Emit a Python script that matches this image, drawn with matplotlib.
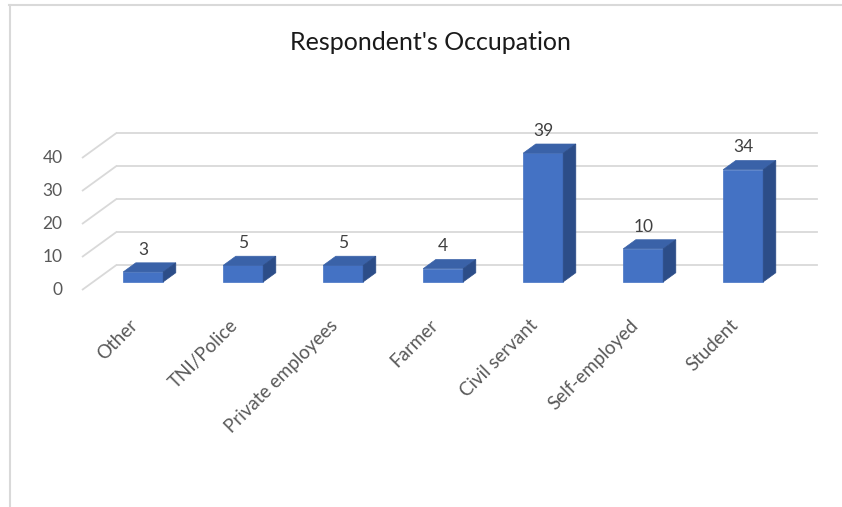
import matplotlib.pyplot as plt
from matplotlib.patches import Polygon
from matplotlib.lines import Line2D

occupations = ["Other", "TNI/Police", "Private employees", "Farmer",
               "Civil servant", "Self-employed", "Student"]
counts = [3, 5, 5, 4, 39, 10, 34]
y_ticks = [0, 10, 20, 30, 40]

W, H = 842, 507
plt.rcParams["font.family"] = ["Lato", "DejaVu Sans"]

fig = plt.figure(figsize=(W / 100, H / 100), dpi=100)
fig.patch.set_facecolor("white")

# front plane of the 3-D box, in pixels: x 82..782, y 290 (0) .. 158 (40)
ax = fig.add_axes([82 / W, (H - 290) / H, 700 / W, 132 / H])
ax.set_xlim(-0.5, len(occupations) - 0.5)
ax.set_ylim(0, 40)
ax.axis("off")

# oblique depth offset (category units, value units)
DX, DY = 0.35, 7.7
D0, D1 = 0.32, 0.68      # bar front/back depth fraction
HALF = 0.2               # half bar width

grid_c = "#d9d9d9"
for v in y_ticks:
    ax.plot([-0.5, -0.5 + DX], [v, v + DY], color=grid_c, lw=1.3,
            clip_on=False, zorder=1, solid_capstyle="butt")
    ax.plot([-0.5 + DX, len(occupations) - 0.5 + DX], [v + DY, v + DY],
            color=grid_c, lw=1.3, clip_on=False, zorder=1)
    ax.annotate(str(v), (-0.5, v), xytext=(-14, 0), textcoords="offset points",
                ha="right", va="center", fontsize=12.5, color="#595959",
                annotation_clip=False)

front_c, top_c, side_c = "#4472C4", "#3A62A8", "#2C4D88"
w = D1 - D0
for i, v in enumerate(counts):
    xl = i - HALF + D0 * DX
    xr = i + HALF + D0 * DX
    yb = D0 * DY
    yt = v + D0 * DY
    front = Polygon([(xl, yb), (xr, yb), (xr, yt), (xl, yt)], closed=True,
                    facecolor=front_c, edgecolor=front_c, lw=0.5, zorder=3,
                    clip_on=False)
    top = Polygon([(xl, yt), (xr, yt), (xr + w * DX, yt + w * DY),
                   (xl + w * DX, yt + w * DY)], closed=True,
                  facecolor=top_c, edgecolor=top_c, lw=0.5, zorder=3,
                  clip_on=False)
    side = Polygon([(xr, yb), (xr + w * DX, yb + w * DY),
                    (xr + w * DX, yt + w * DY), (xr, yt)], closed=True,
                   facecolor=side_c, edgecolor=side_c, lw=0.5, zorder=3,
                   clip_on=False)
    for p in (front, top, side):
        ax.add_patch(p)
    ax.annotate(str(v), (i + D0 * DX, v + D1 * DY), xytext=(0, 9.5),
                textcoords="offset points", ha="center", va="center",
                fontsize=12.5, color="#404040", annotation_clip=False, zorder=4)

for i, name in enumerate(occupations):
    ax.annotate(name, (i, 0), xytext=(-2, -19), textcoords="offset points",
                ha="right", va="top", rotation=45, rotation_mode="anchor",
                fontsize=13.5, color="#595959", annotation_clip=False)

fig.text(430 / W, 1 - 42 / H, "Respondent's Occupation", ha="center",
         va="center", fontsize=18, color="#1a1a1a")

# chart area border (top and left edges visible)
fig.add_artist(Line2D([9 / W, 1], [1 - 5 / H, 1 - 5 / H], color="#d9d9d9",
                      lw=1.5, transform=fig.transFigure))
fig.add_artist(Line2D([10 / W, 10 / W], [0, 1 - 5 / H], color="#d9d9d9",
                      lw=1.5, transform=fig.transFigure))

fig.savefig("out.png", dpi=100, facecolor="white")
